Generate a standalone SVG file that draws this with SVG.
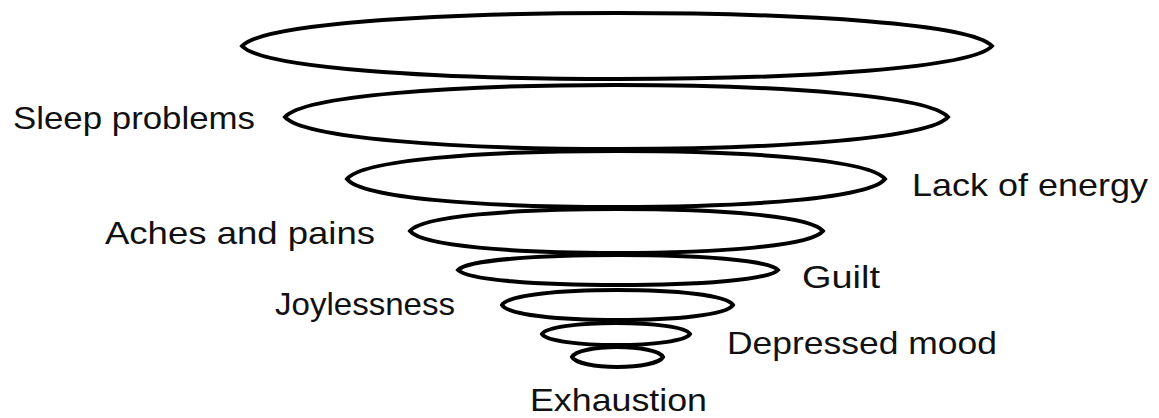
<svg xmlns="http://www.w3.org/2000/svg" width="1159" height="418" viewBox="0 0 1159 418">
<style>
.ring{fill:none;stroke:#000;stroke-width:4}
.lbl{font-family:"Liberation Sans",Arial,sans-serif;font-size:32px;fill:#111}
</style>
<rect width="1159" height="418" fill="#fff"/>
<g id="rings">
<g id="ring1"><path class="ring" d="M242,46 C262,24 430,13 617,13 C805,13 972,24 992,46 C972,68 805,79 617,79 C430,79 262,68 242,46 Z"/></g>
<g id="ring2"><path class="ring" d="M285,117 C303,96 450,85 616,85 C783,85 930,96 948,117 C930,138 783,149 616,149 C450,149 303,138 285,117 Z"/></g>
<g id="ring3"><path class="ring" d="M347,179 C362,160 480,151 616,151 C752,151 870,160 885,179 C870,198 752,207 616,207 C480,207 362,198 347,179 Z"/></g>
<g id="ring4"><path class="ring" d="M410,231 C422,216 513,209 616,209 C720,209 811,216 823,231 C811,246 720,253 616,253 C513,253 422,246 410,231 Z"/></g>
<g id="ring5"><path class="ring" d="M458,270 C467,260 538,255 618,255 C698,255 769,260 778,270 C769,280 698,285 618,285 C538,285 467,280 458,270 Z"/></g>
<g id="ring6"><path class="ring" d="M502,305 C508,295 560,290 617,290 C675,290 727,295 733,305 C727,315 675,320 617,320 C560,320 508,315 502,305 Z"/></g>
<g id="ring7"><path class="ring" d="M542,334 C546,327 580,323 616,323 C653,323 686,327 690,334 C686,341 653,345 616,345 C580,345 546,341 542,334 Z"/></g>
<g id="ring8"><path class="ring" d="M572,357 C575,351 595,347 617,347 C640,347 660,351 663,357 C660,363 640,367 617,367 C595,367 575,363 572,357 Z"/></g>
</g>
<g id="labels">
<g id="l-sleep"><text class="lbl" x="13" y="129" textLength="242" lengthAdjust="spacingAndGlyphs">Sleep problems</text></g>
<g id="l-energy"><text class="lbl" x="912" y="196" textLength="236" lengthAdjust="spacingAndGlyphs">Lack of energy</text></g>
<g id="l-aches"><text class="lbl" x="105" y="244" textLength="270" lengthAdjust="spacingAndGlyphs">Aches and pains</text></g>
<g id="l-guilt"><text class="lbl" x="802" y="288" textLength="78" lengthAdjust="spacingAndGlyphs">Guilt</text></g>
<g id="l-joy"><text class="lbl" x="275" y="315" textLength="180" lengthAdjust="spacingAndGlyphs">Joylessness</text></g>
<g id="l-mood"><text class="lbl" x="727" y="354" textLength="270" lengthAdjust="spacingAndGlyphs">Depressed mood</text></g>
<g id="l-exh"><text class="lbl" x="530" y="411" textLength="177" lengthAdjust="spacingAndGlyphs">Exhaustion</text></g>
</g>
</svg>
